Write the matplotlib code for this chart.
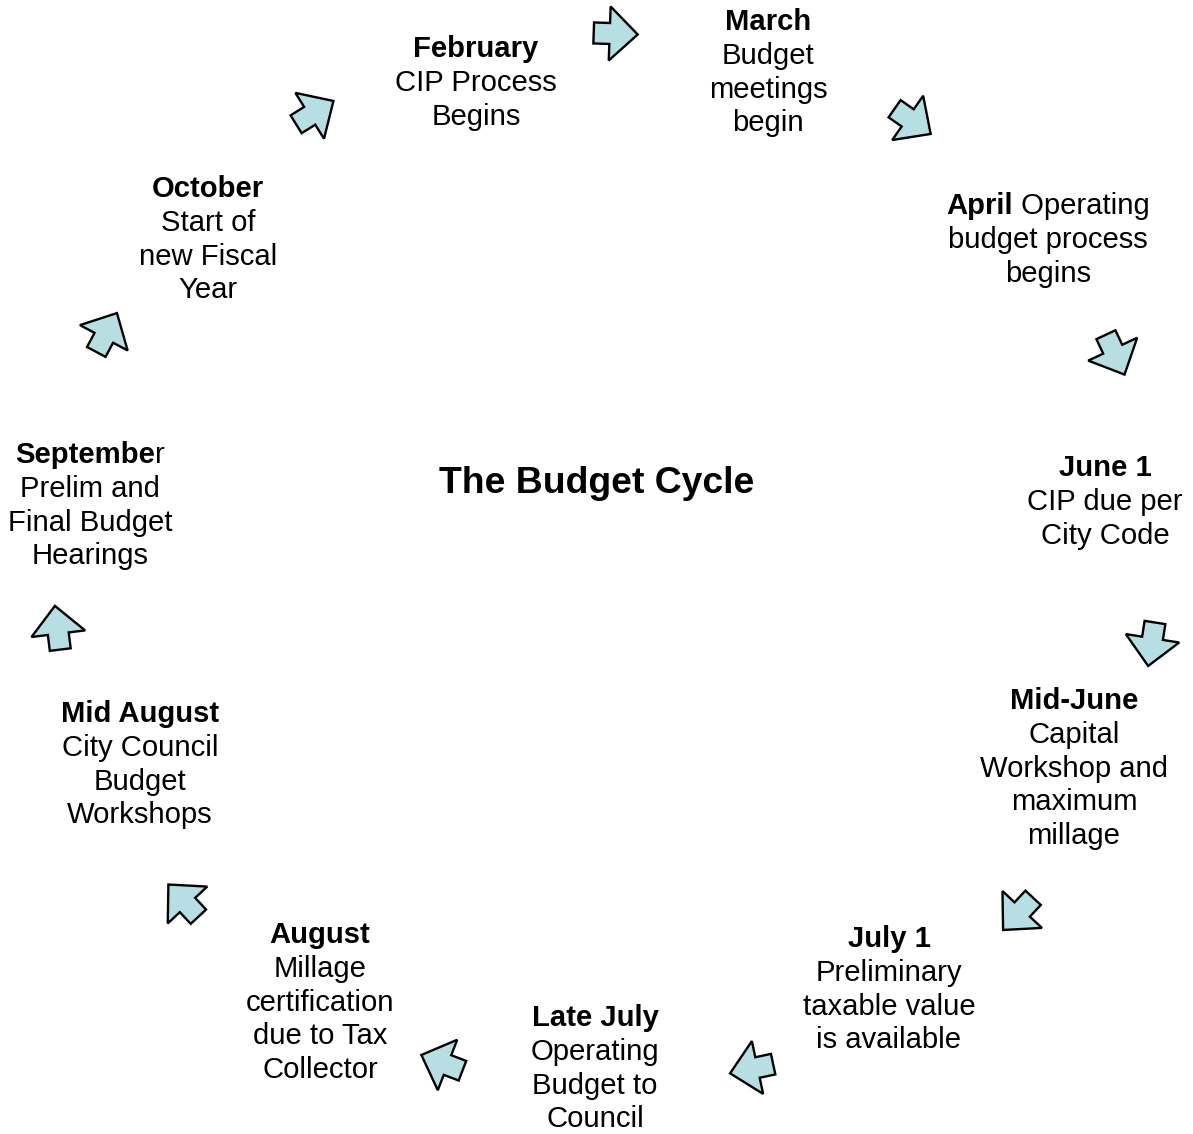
"""
Diagrama del ciclo presupuestario: etapas alrededor de un circulo con flechas.
"""

import matplotlib
matplotlib.use('Agg')
import matplotlib.pyplot as plt
import numpy as np
from matplotlib.patches import Polygon

# ==========================================
# DATOS (textos del diagrama)
# ==========================================
TITULO = 'The Budget Cycle'

# Cada linea es una lista de segmentos (texto, negrita)
ETAPAS = [
    [[('February', True)], [('CIP Process', False)], [('Begins', False)]],
    [[('March', True)], [('Budget', False)], [('meetings', False)], [('begin', False)]],
    [[('April', True), (' Operating', False)], [('budget process', False)], [('begins', False)]],
    [[('June 1', True)], [('CIP due per', False)], [('City Code', False)]],
    [[('Mid-June', True)], [('Capital', False)], [('Workshop and', False)],
     [('maximum', False)], [('millage', False)]],
    [[('July 1', True)], [('Preliminary', False)], [('taxable value', False)],
     [('is available', False)]],
    [[('Late July', True)], [('Operating', False)], [('Budget to', False)], [('Council', False)]],
    [[('August', True)], [('Millage', False)], [('certification', False)],
     [('due to Tax', False)], [('Collector', False)]],
    [[('Mid August', True)], [('City Council', False)], [('Budget', False)],
     [('Workshops', False)]],
    [[('Septembe', True), ('r', False)], [('Prelim and', False)], [('Final Budget', False)],
     [('Hearings', False)]],
    [[('October', True)], [('Start of', False)], [('new Fiscal', False)], [('Year', False)]],
]

# ==========================================
# DISPOSICION (pixeles de la imagen)
# ==========================================
ANCHO, ALTO = 1193, 1134
CENTROS_X = [476, 768, 1048, 1105, 1074, 889, 595, 320, 140, 90, 208]
PRIMERA_LINEA_Y = [47, 20, 204, 466, 699, 937, 1016, 933, 712, 453, 187]
INTERLINEA = 33.8

# Flechas: centro de la base de la punta y angulo (grados, y hacia abajo)
FLECHAS_X = [609.7, 907.7, 1112.7, 1152.5, 1022.2, 757.5, 447.5, 187.5, 58.3, 103.8, 309.7]
FLECHAS_Y = [33.5, 117.9, 349.2, 638.3, 909.5, 1067.5, 1065.0, 905.0, 633.7, 337.8, 115.8]
FLECHAS_ANG = [2, 35, 65, 99, 133, 168, 201, 227, 263, 298, 328]

COLOR_FLECHA = '#b7dee3'
FUENTE = ['Liberation Sans', 'DejaVu Sans']
TAM_TEXTO = 21.1
TAM_TITULO = 26.9


def dibujar_flecha(ax, bx, by, ang):
    """
    Dibuja una flecha de bloque corta con la base de la punta en (bx, by).
    """
    largo_punta, ancho_punta = 28, 54
    largo_cuerpo, ancho_cuerpo = 16, 21
    local = np.array([
        (largo_punta, 0),
        (0, ancho_punta / 2),
        (0, ancho_cuerpo / 2),
        (-largo_cuerpo, ancho_cuerpo / 2),
        (-largo_cuerpo, -ancho_cuerpo / 2),
        (0, -ancho_cuerpo / 2),
        (0, -ancho_punta / 2),
    ])
    a = np.deg2rad(ang)
    rot = np.array([[np.cos(a), -np.sin(a)], [np.sin(a), np.cos(a)]])
    puntos = local @ rot.T + np.array([bx, by])
    ax.add_patch(Polygon(puntos, closed=True, facecolor=COLOR_FLECHA,
                         edgecolor='black', linewidth=1.7, joinstyle='miter'))


def dibujar_linea(ax, renderer, x, y, segmentos):
    """
    Dibuja una linea de texto centrada en x, compuesta de segmentos normales/negrita.
    """
    textos = []
    for texto, negrita in segmentos:
        t = ax.text(0, y, texto, fontsize=TAM_TEXTO, family=FUENTE,
                    fontweight='bold' if negrita else 'normal',
                    ha='left', va='baseline')
        textos.append(t)
    anchos = [t.get_window_extent(renderer).width for t in textos]
    inicio = x - sum(anchos) / 2
    for t, w in zip(textos, anchos):
        t.set_x(inicio)
        inicio += w


def main():
    fig = plt.figure(figsize=(ANCHO / 100, ALTO / 100), dpi=100)
    ax = fig.add_axes([0, 0, 1, 1])
    ax.set_xlim(0, ANCHO)
    ax.set_ylim(ALTO, 0)
    ax.axis('off')

    renderer = fig.canvas.get_renderer()

    for bx, by, ang in zip(FLECHAS_X, FLECHAS_Y, FLECHAS_ANG):
        dibujar_flecha(ax, bx, by, ang)

    for etapa, cx, y0 in zip(ETAPAS, CENTROS_X, PRIMERA_LINEA_Y):
        for i, linea in enumerate(etapa):
            dibujar_linea(ax, renderer, cx, y0 + i * INTERLINEA + 10, linea)

    ax.text(597, 480 + 13, TITULO, fontsize=TAM_TITULO, family=FUENTE,
            fontweight='bold', ha='center', va='baseline')

    fig.savefig('out.png', dpi=100)
    plt.close(fig)


if __name__ == "__main__":
    main()
